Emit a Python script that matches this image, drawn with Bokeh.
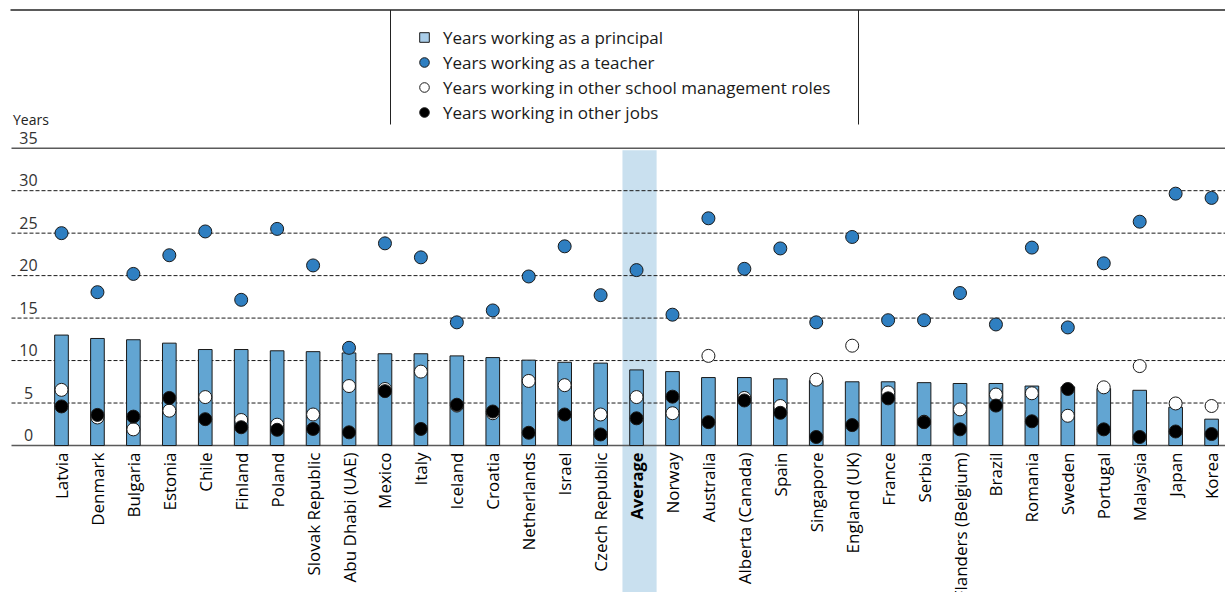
import math
from bokeh.plotting import figure
from bokeh.models import ColumnDataSource, Range1d, Legend, LegendItem, Label
from bokeh.core.properties import value
from bokeh.embed import file_html
from bokeh.resources import INLINE

# ---------------- data ----------------
categories = ["Latvia", "Denmark", "Bulgaria", "Estonia", "Chile", "Finland", "Poland",
              "Slovak Republic", "Abu Dhabi (UAE)", "Mexico", "Italy", "Iceland", "Croatia",
              "Netherlands", "Israel", "Czech Republic", "Average", "Norway", "Australia",
              "Alberta (Canada)", "Spain", "Singapore", "England (UK)", "France", "Serbia",
              "Flanders (Belgium)", "Brazil", "Romania", "Sweden", "Portugal", "Malaysia",
              "Japan", "Korea"]

years_principal = [13.0, 12.6, 12.45, 12.05, 11.3, 11.3, 11.15, 11.05, 10.9, 10.8, 10.8, 10.55,
                   10.35, 10.05, 9.8, 9.7, 8.9, 8.7, 8.0, 8.0, 7.85, 7.65, 7.5, 7.5, 7.4, 7.3,
                   7.3, 7.0, 6.9, 6.7, 6.5, 4.5, 3.1]

years_teacher = [25.0, 18.05, 20.2, 22.4, 25.2, 17.15, 25.5, 21.2, 11.5, 23.8, 22.15, 14.5,
                 15.9, 19.9, 23.45, 17.7, 20.65, 15.4, 26.75, 20.8, 23.2, 14.5, 24.55, 14.75,
                 14.75, 17.95, 14.25, 23.3, 13.9, 21.45, 26.35, 29.65, 29.15]

years_other_mgmt = [6.55, 3.3, 1.9, 4.1, 5.7, 3.0, 2.45, 3.65, 7.0, 6.65, 8.7, 4.7, 3.8, 7.6,
                    7.1, 3.65, 5.7, 3.8, 10.55, 5.6, 4.65, 7.75, 11.75, 6.25, 2.8, 4.25, 6.0,
                    6.15, 3.5, 6.85, 9.35, 4.95, 4.65]

years_other_jobs = [4.6, 3.6, 3.4, 5.6, 3.1, 2.15, 1.85, 1.95, 1.55, 6.4, 1.95, 4.8, 4.0, 1.5,
                    3.65, 1.3, 3.2, 5.75, 2.75, 5.3, 3.85, 1.0, 2.4, 5.55, 2.75, 1.9, 4.7, 2.85,
                    6.65, 1.9, 1.0, 1.65, 1.35]

y_ticks = [0, 5, 10, 15, 20, 25, 30, 35]
y_title = "Years"
highlight = "Average"

legend_labels = ["Years working as a principal", "Years working as a teacher",
                 "Years working in other school management roles", "Years working in other jobs"]

# ---------------- geometry ----------------
W, H = 1225, 592
PX_PER_CAT = 35.94
PX_PER_YEAR = 8.494
FIRST_CAT_PX = 61.0
ZERO_PX = 445.0
PAGE_OFF = 0.0

xl = (PAGE_OFF - FIRST_CAT_PX) / PX_PER_CAT
xr = xl + W / PX_PER_CAT
yt = (ZERO_PX - PAGE_OFF) / PX_PER_YEAR
yb = yt - H / PX_PER_YEAR


def X(px):
    return xl + (px - PAGE_OFF) / PX_PER_CAT


def Y(py):
    return yt - (py - PAGE_OFF) / PX_PER_YEAR


xs = list(range(len(categories)))
styles = ["bold" if c == highlight else "normal" for c in categories]
sizes = ["16.5px" if c == highlight else "17px" for c in categories]

src = ColumnDataSource(dict(x=xs, cat=categories, principal=years_principal,
                            teacher=years_teacher, mgmt=years_other_mgmt,
                            jobs=years_other_jobs, style=styles, fsize=sizes))

p = figure(width=W, height=H, x_range=Range1d(xl, xr), y_range=Range1d(yb, yt),
           output_backend="svg", toolbar_location=None,
           x_axis_location=None, y_axis_location=None, min_border=0,
           outline_line_color=None, background_fill_color="white",
           border_fill_color="white")
for g in p.grid:
    g.visible = False

FONT = value("Open Sans")

# highlight band for the average
hi = categories.index(highlight)
band_shift = 3 / PX_PER_CAT
p.quad(left=[hi - 0.475 + band_shift], right=[hi + 0.475 + band_shift], bottom=[yb],
       top=[y_ticks[-1] - 2 / PX_PER_YEAR], fill_color="#c9e0ef", line_color=None)

# gridlines
grid_y = [t for t in y_ticks if 0 < t < y_ticks[-1]]
p.segment(x0=[X(11)] * len(grid_y), x1=[xr] * len(grid_y), y0=grid_y, y1=grid_y,
          line_color="#1a1a1a", line_width=1, line_dash="4 2")
p.segment(x0=[X(11)] * 2, x1=[xr] * 2, y0=[0, y_ticks[-1]], y1=[0, y_ticks[-1]],
          line_color="#5a5a5a", line_width=1.6)

# top rule and legend dividers
p.segment(x0=[X(10)], x1=[xr], y0=[Y(9.5)], y1=[Y(9.5)], line_color="#5a5a5a", line_width=2)
p.segment(x0=[X(390), X(858)], x1=[X(390), X(858)], y0=[Y(9.5), Y(9.5)], y1=[Y(124), Y(124)],
          line_color="#222222", line_width=1)

# y labels (sit just above each gridline)
p.text(x=[X(28)] * len(y_ticks), y=[t + 4.5 / PX_PER_YEAR for t in y_ticks],
       text=[str(t) for t in y_ticks], text_align="center", text_baseline="bottom",
       text_font=FONT, text_font_size=value("16px"), text_color="#333333")
p.add_layout(Label(x=X(12.5), y=Y(128.5), text=y_title, text_align="left",
                   text_baseline="bottom", text_font="Open Sans",
                   text_font_size="14px", text_color="#222222"))

# bars & markers
bars = p.vbar(x="x", top="principal", bottom=0, width=0.38, source=src,
              fill_color="#62a5d2", line_color="#1a1a1a", line_width=1)
r_teacher = p.scatter(x="x", y="teacher", source=src, size=13, marker="circle",
                      fill_color="#2f7fc1", line_color="#1a1a1a", line_width=1)
r_mgmt = p.scatter(x="x", y="mgmt", source=src, size=13, marker="circle",
                   fill_color="white", line_color="#1a1a1a", line_width=1)
r_jobs = p.scatter(x="x", y="jobs", source=src, size=13, marker="circle",
                   fill_color="black", line_color="#1a1a1a", line_width=1)

# category labels
p.text(x="x", y=Y(452), text="cat", source=src, angle=math.pi / 2,
       text_align="right", text_baseline="middle", text_font=FONT,
       text_font_size="fsize", text_font_style="style", text_color="#000000")

# legend (square swatch for the principal series)
legend_sq = p.scatter(x=[0], y=[float("nan")], marker="square", size=12,
                      fill_color="#a9cde9", line_color="#1a1a1a", line_width=1)
legend = Legend(items=[LegendItem(label=legend_labels[0], renderers=[legend_sq]),
                       LegendItem(label=legend_labels[1], renderers=[r_teacher]),
                       LegendItem(label=legend_labels[2], renderers=[r_mgmt]),
                       LegendItem(label=legend_labels[3], renderers=[r_jobs])],
                location=(412, H - 124), border_line_color=None,
                background_fill_alpha=0, padding=0, margin=0, spacing=1,
                glyph_width=24, glyph_height=24, label_standoff=7,
                label_text_font="Open Sans", label_text_font_size="17px",
                label_text_color="#1a1a1a")
p.add_layout(legend)

open("out.html", "w").write(file_html(p, INLINE))
